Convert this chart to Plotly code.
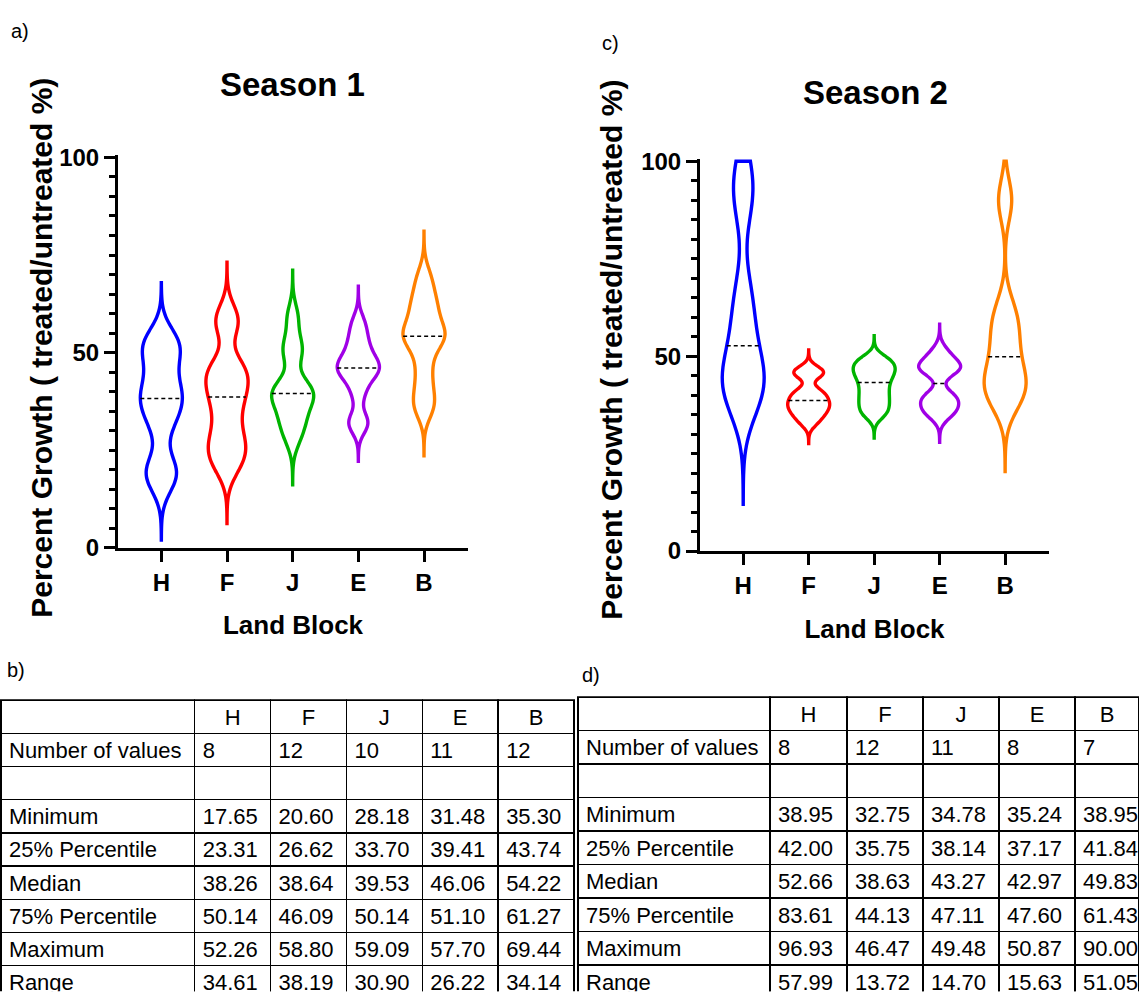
import numpy as np
import plotly.graph_objects as go

BLOCKS = ["H", "F", "J", "E", "B"]
COLORS = ["#0000FF", "#FF0000", "#00B400", "#A000E6", "#FF8000"]

# Percent growth (treated / untreated %) for each land block, season 1
S1_H = [17.65, 20.50, 31.74, 37.50, 39.02, 44.98, 51.86, 52.26]
S1_F = [20.604, 23.50, 26.00, 28.48, 33.00, 37.50, 39.78, 43.00, 45.46, 46.30, 57.50, 58.796]
S1_J = [28.184, 32.08, 34.24, 38.50, 39.00, 40.06, 41.50, 49.50, 52.06, 59.086]
S1_E = [31.48, 32.50, 39.41, 43.50, 45.00, 46.06, 47.00, 48.50, 51.10, 54.00, 57.70]
S1_B = [35.30, 38.00, 42.50, 47.46, 52.50, 53.80, 54.64, 56.00, 59.50, 61.86, 65.00, 69.44]

# Season 2
S2_H = [38.946, 41.00, 45.00, 48.00, 57.32, 66.00, 89.48, 96.934]
S2_F = [32.75, 34.50, 35.50, 36.50, 37.50, 38.20, 39.06, 40.50, 41.04, 45.16, 45.90, 46.47]
S2_J = [34.78, 36.50, 38.14, 39.80, 41.50, 43.27, 44.80, 46.00, 47.11, 48.30, 49.48]
S2_E = [35.24, 36.50, 39.18, 39.50, 46.44, 47.00, 47.80, 50.87]
S2_B = [38.95, 41.84, 44.00, 49.83, 56.00, 61.43, 90.00]

# kernel bandwidths used for the violin outlines
S1_BW = [4.47, 4.10, 3.43, 2.66, 3.34]
S2_BW = [7.70, 1.47, 1.65, 2.10, 5.30]

ROW_LABELS = ["Number of values", "", "Minimum", "25% Percentile", "Median",
              "75% Percentile", "Maximum", "Range"]

Y_TITLE = "Percent Growth ( treated/untreated %)"
X_TITLE = "Land Block"

Y_TICKS = [0, 50, 100]
Y_MINOR = list(range(0, 101, 5))
Y_TOP = 100          # violins are cut at the top of the axis
TAIL = 3.5           # kde tails drawn out to this many bandwidths
VIOLIN_WIDTH = 0.64

W, H = 1139, 1005
FONT = "Arial, Liberation Sans, sans-serif"


def px_x(p):
    return p / W


def px_y(p):
    return 1 - p / H


def kde_ratio(vals, bw, lo, hi, at):
    """Density at `at` relative to the peak on plotly's violin grid."""
    v = np.asarray(vals, float)

    def kde(t):
        z = (np.atleast_1d(t)[None, :] - v[:, None]) / bw
        return np.exp(-0.5 * z ** 2).sum(axis=0) / (len(v) * bw * np.sqrt(2 * np.pi))

    n = int(np.ceil((hi - lo) / (bw / 3)))
    grid = lo + (hi - lo) / n * np.arange(n + 1)
    return float(kde(at)[0] / kde(grid).max())


def nb(s):
    # keep table labels on one line
    return s.replace(" ", "\u00a0")


def summary(vals):
    v = np.asarray(vals, float)
    q1, med, q3 = np.percentile(v, [25, 50, 75], method="weibull")
    return [str(len(v)), "", f"{v.min():.2f}", f"{q1:.2f}", f"{med:.2f}",
            f"{q3:.2f}", f"{v.max():.2f}", f"{v.max() - v.min():.2f}"]


fig = go.Figure()

seasons = [
    ([S1_H, S1_F, S1_J, S1_E, S1_B], S1_BW, "x", "y"),
    ([S2_H, S2_F, S2_J, S2_E, S2_B], S2_BW, "x2", "y2"),
]

for groups, bws, xa, ya in seasons:
    for i, (vals, bw, col) in enumerate(zip(groups, bws, COLORS)):
        lo = max(0.0, min(vals) - TAIL * bw)
        hi = min(Y_TOP, max(vals) + TAIL * bw)
        fig.add_trace(go.Violin(
            y=vals, x0=i, name=BLOCKS[i], xaxis=xa, yaxis=ya,
            width=VIOLIN_WIDTH, bandwidth=bw, spanmode="manual", span=[lo, hi],
            scalemode="width", side="both", points=False,
            line=dict(color=col, width=3.4), fillcolor="rgba(0,0,0,0)",
            box_visible=False, meanline_visible=False,
            showlegend=False, hoverinfo="skip",
        ))
        med = float(np.median(vals))
        half = kde_ratio(vals, bw, lo, hi, med) * VIOLIN_WIDTH / 2
        fig.add_trace(go.Scatter(
            x=[i - half, i + half], y=[med, med], xaxis=xa, yaxis=ya,
            mode="lines", line=dict(color="black", width=1.5, dash="4px,3px"),
            showlegend=False, hoverinfo="skip",
        ))

axis_common = dict(
    showline=True, linecolor="black", linewidth=3, showgrid=False, zeroline=False,
    ticks="outside", ticklen=11, tickwidth=3, tickcolor="black",
)

xaxis_common = dict(
    axis_common, range=[-0.66, 4.67], tickmode="array", tickvals=list(range(5)),
    ticktext=BLOCKS, tickfont=dict(family=FONT, size=24, color="black", weight="bold"),
    title=dict(text=X_TITLE, font=dict(family=FONT, size=26, color="black", weight="bold"),
               standoff=22),
)

yaxis_common = dict(
    axis_common, range=[0, 100.6], tickmode="array", tickvals=Y_TICKS,
    tickfont=dict(family=FONT, size=24, color="black", weight="bold"),
    minor=dict(tickmode="array", tickvals=Y_MINOR, ticks="outside", ticklen=6,
               tickwidth=3, tickcolor="black", showgrid=False),
)

fig.update_layout(
    width=W, height=H, margin=dict(l=0, r=0, t=0, b=0),
    paper_bgcolor="white", plot_bgcolor="white", violinmode="overlay",
    xaxis=dict(xaxis_common, domain=[px_x(118), px_x(468)], anchor="y"),
    yaxis=dict(yaxis_common, domain=[px_y(550), px_y(147.6)], anchor="x"),
    xaxis2=dict(xaxis_common, domain=[px_x(700), px_x(1049)], anchor="y2"),
    yaxis2=dict(yaxis_common, domain=[px_y(553.3), px_y(151.6)], anchor="x2"),
)

# summary tables
for stats_groups, dom_x, top, row_h, widths in [
    ([S1_H, S1_F, S1_J, S1_E, S1_B], [px_x(1), px_x(575)], 706, 33.2,
     [194, 76, 76, 76, 76, 76]),
    ([S2_H, S2_F, S2_J, S2_E, S2_B], [px_x(578), 1.0], 703, 33.5,
     [192, 77, 76, 76, 76, 64]),
]:
    cols = [[nb(s) for s in ROW_LABELS]] + [summary(g) for g in stats_groups]
    fig.add_trace(go.Table(
        domain=dict(x=dom_x, y=[0, px_y(top)]),
        columnwidth=widths,
        header=dict(values=[""] + BLOCKS, align="center", height=row_h,
                    line=dict(color="black", width=1.5), fill_color="white",
                    font=dict(family=FONT, size=22, color="black")),
        cells=dict(values=cols, align="left", height=row_h,
                   line=dict(color="black", width=1.5), fill_color="white",
                   font=dict(family=FONT, size=22, color="black")),
    ))

# titles, y-axis titles and panel letters
notes = [
    ("Season 1", 292, 75, 33, "bold", 0),
    ("Season 2", 875, 84, 33, "bold", 0),
    (Y_TITLE, 42, 345, 30, "bold", -90),
    (Y_TITLE, 612, 347, 30, "bold", -90),
    ("a)", 20, 20, 20, "normal", 0),
    ("c)", 610, 33, 20, "normal", 0),
    ("b)", 16, 675, 20, "normal", 0),
    ("d)", 591, 680, 20, "normal", 0),
]
for text, x, y, size, weight, ang in notes:
    fig.add_annotation(text=text, x=px_x(x), y=px_y(y), xref="paper", yref="paper",
                       showarrow=False, xanchor="center", yanchor="middle", textangle=ang,
                       font=dict(family=FONT, size=size, color="black", weight=weight))

fig.write_html("out.html", config={"displayModeBar": False})
